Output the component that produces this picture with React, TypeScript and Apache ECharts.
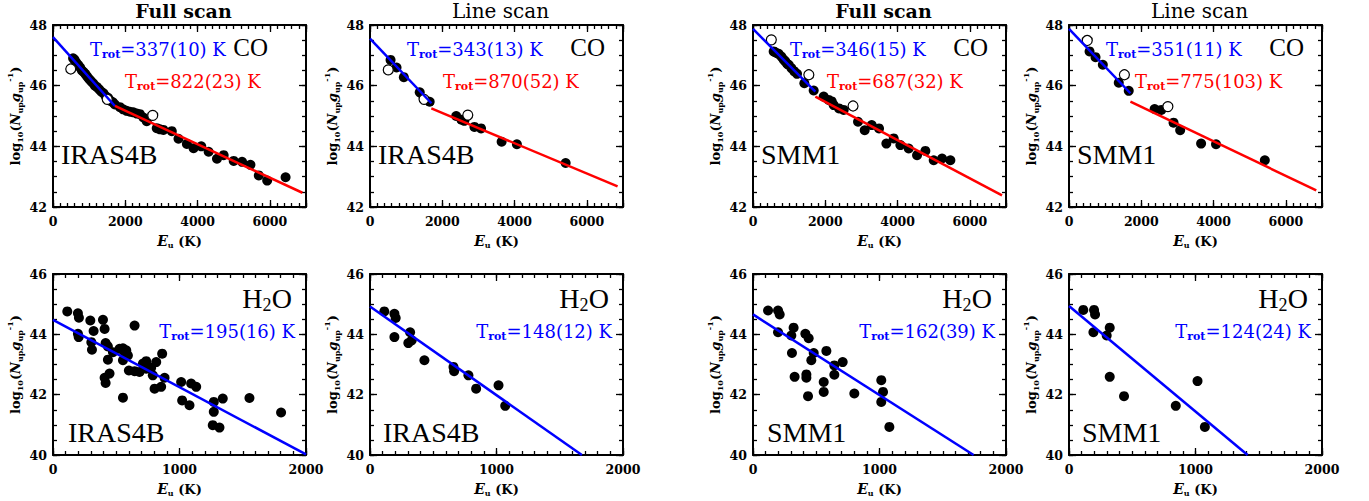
import React, { useEffect, useRef } from 'react';
import * as echarts from 'echarts';

// ---------------- Data ----------------
const scanTitles = ['Full scan', 'Line scan', 'Full scan', 'Line scan'];
const sourceNames = ['IRAS4B', 'IRAS4B', 'SMM1', 'SMM1'];
const coTrotWarm = ['337(10)', '343(13)', '346(15)', '351(11)'];
const coTrotHot = ['822(23)', '870(52)', '687(32)', '775(103)'];
const h2oTrot = ['195(16)', '148(12)', '162(39)', '124(24)'];

const coXRange = [0, 7000];
const coYRange = [42, 48];
const h2oXRange = [0, 2000];
const h2oYRange = [40, 46];
const coXStep = 2000;
const coXMinor = 200;
const h2oXStep = 1000;
const h2oXMinor = 100;
const yStep = 2;
const yMinor = 0.5;

// CO, IRAS4B, full scan
const coFullIRAS4B = [
  [556, 46.9], [600, 46.85], [650, 46.75], [700, 46.68], [752, 46.6], [800, 46.5], [846, 46.45],
  [900, 46.38], [945, 46.3], [1000, 46.22], [1050, 46.15], [1110, 46.08], [1160, 46.0], [1220, 45.95],
  [1276, 45.88], [1340, 45.8], [1397, 45.75], [1460, 45.65], [1524, 45.6], [1590, 45.5], [1657, 45.45],
  [1713, 45.38], [1852, 45.29], [1940, 45.22], [2037, 45.17], [2130, 45.14], [2222, 45.12], [2320, 45.08],
  [2407, 45.06], [2500, 44.95], [2593, 44.83], [2870, 44.6], [2960, 44.56], [3056, 44.54], [3287, 44.5],
  [3472, 44.25], [3704, 44.08], [3889, 43.94], [4102, 44.0], [4306, 43.82], [4537, 43.59], [4722, 43.71],
  [5000, 43.52], [5231, 43.49], [5463, 43.39], [5694, 43.04], [5926, 42.87], [6435, 42.98],
];
const coFullIRAS4BBlend = [[491, 46.55], [1500, 45.55], [2759, 45.02]];
const coFullIRAS4BWarmFit = [[0, 47.6], [1713, 45.33]];
const coFullIRAS4BHotFit = [[1713, 45.33], [6900, 42.47]];

// CO, IRAS4B, line scan
const coLineIRAS4B = [
  [569, 46.85], [734, 46.6], [936, 46.28], [1376, 45.78], [1651, 45.47], [2385, 45.0], [2530, 44.88],
  [2610, 44.84], [2890, 44.64], [3073, 44.59], [3642, 44.15], [4064, 44.07], [5413, 43.45],
];
const coLineIRAS4BBlend = [[505, 46.52], [1495, 45.55], [2706, 45.03]];
const coLineIRAS4BWarmFit = [[0, 47.55], [1700, 45.42]];
const coLineIRAS4BHotFit = [[1697, 45.25], [6850, 42.68]];

// CO, SMM1, full scan
const coFullSMM1 = [
  [572, 47.13], [600, 47.11], [664, 47.07], [710, 47.05], [784, 46.96], [846, 46.86], [895, 46.8],
  [945, 46.72], [987, 46.69], [1061, 46.58], [1144, 46.47], [1218, 46.39], [1421, 46.08], [1679, 45.84],
  [1956, 45.64], [2094, 45.53], [2180, 45.48], [2232, 45.36], [2380, 45.25], [2509, 45.2], [2906, 44.81],
  [3090, 44.53], [3284, 44.7], [3487, 44.59], [3690, 44.09], [3893, 44.26], [4077, 44.04], [4308, 43.93],
  [4539, 43.71], [4769, 43.85], [5000, 43.54], [5231, 43.6], [5461, 43.54],
];
const coFullSMM1Blend = [[507, 47.51], [1545, 46.36], [2768, 45.33]];
const coFullSMM1WarmFit = [[0, 47.87], [1725, 45.8]];
const coFullSMM1HotFit = [[1725, 45.64], [6890, 42.38]];

// CO, SMM1, line scan
const coLineSMM1 = [
  [569, 47.13], [734, 46.94], [936, 46.69], [1377, 46.1], [1653, 45.83], [2369, 45.23], [2553, 45.2],
  [2893, 44.78], [3076, 44.53], [3655, 44.09], [4068, 44.07], [5418, 43.54],
];
const coLineSMM1Blend = [[505, 47.49], [1533, 46.36], [2736, 45.31]];
const coLineSMM1WarmFit = [[0, 47.87], [1699, 45.75]];
const coLineSMM1HotFit = [[1699, 45.47], [6841, 42.55]];

// H2O, IRAS4B, full scan
const h2oFullIRAS4B = [
  [113, 44.76], [197, 44.7], [205, 44.55], [197, 44.02], [203, 43.91], [295, 44.46], [321, 44.11],
  [303, 43.74], [308, 43.49], [395, 44.48], [408, 44.18], [416, 43.71], [434, 43.6], [408, 42.56],
  [416, 42.39], [447, 42.7], [434, 43.16], [474, 43.41], [526, 43.52], [553, 41.9], [553, 43.54],
  [566, 43.41], [553, 43.14], [579, 43.47], [592, 43.3], [600, 42.8], [645, 44.29], [645, 42.78],
  [684, 42.75], [711, 43.03], [737, 43.11], [737, 42.86], [776, 42.89], [789, 42.64], [803, 42.2],
  [816, 43.08], [855, 42.26], [863, 43.36], [882, 42.56], [1013, 42.42], [1021, 41.81], [1079, 41.65],
  [1092, 42.37], [1132, 42.26], [1271, 41.76], [1271, 41.43], [1342, 41.87], [1263, 40.99],
  [1316, 40.91], [1553, 41.89], [1803, 41.41],
];
const h2oFullIRAS4BFit = [[0, 44.48], [2000, 40.02]];

// H2O, IRAS4B, line scan
const h2oLineIRAS4B = [
  [113, 44.76], [193, 44.68], [203, 44.54], [193, 43.91], [317, 44.07], [303, 43.71], [330, 43.8],
  [430, 43.14], [660, 42.92], [665, 42.78], [778, 42.64], [839, 42.2], [1016, 42.31], [1069, 41.63],
];
const h2oLineIRAS4BFit = [[0, 44.92], [1675, 40.0]];

// H2O, SMM1, full scan
const h2oFullSMM1 = [
  [119, 44.79], [198, 44.79], [211, 44.66], [198, 44.07], [321, 44.22], [303, 43.96], [308, 43.38],
  [329, 42.59], [414, 44.02], [440, 43.87], [422, 42.67], [422, 42.56], [435, 41.95], [480, 43.38],
  [461, 43.14], [580, 43.45], [559, 42.42], [559, 42.09], [643, 42.97], [643, 42.66], [709, 43.08],
  [801, 42.04], [1014, 42.48], [1028, 42.09], [1014, 41.76], [1078, 40.93],
];
const h2oFullSMM1Fit = [[0, 44.66], [1744, 40.0]];

// H2O, SMM1, line scan
const h2oLineSMM1 = [
  [113, 44.81], [198, 44.81], [206, 44.66], [193, 44.07], [298, 43.96], [322, 44.22], [322, 42.59],
  [435, 41.95], [844, 41.63], [1016, 42.45], [1074, 40.93],
];
const h2oLineSMM1Fit = [[0, 44.94], [1412, 40.0]];

// ---------------- Layout / styles ----------------
const SERIF = "'DejaVu Serif', serif";
const TIMES = "'Liberation Serif', 'Times New Roman', serif";
const BLUE = '#0000ff';
const RED = '#ff0000';
const COL_LEFT = [53, 370, 753, 1069];
const PANEL_W = 253;
const ROW_TOP = [25, 274];
const ROW_H = [182, 181];

type Panel = {
  row: number;
  col: number;
  filled: number[][];
  open: number[][];
  fits: [number[][], string][];
};

const panels: Panel[] = [
  { row: 0, col: 0, filled: coFullIRAS4B, open: coFullIRAS4BBlend, fits: [[coFullIRAS4BWarmFit, BLUE], [coFullIRAS4BHotFit, RED]] },
  { row: 0, col: 1, filled: coLineIRAS4B, open: coLineIRAS4BBlend, fits: [[coLineIRAS4BWarmFit, BLUE], [coLineIRAS4BHotFit, RED]] },
  { row: 0, col: 2, filled: coFullSMM1, open: coFullSMM1Blend, fits: [[coFullSMM1WarmFit, BLUE], [coFullSMM1HotFit, RED]] },
  { row: 0, col: 3, filled: coLineSMM1, open: coLineSMM1Blend, fits: [[coLineSMM1WarmFit, BLUE], [coLineSMM1HotFit, RED]] },
  { row: 1, col: 0, filled: h2oFullIRAS4B, open: [], fits: [[h2oFullIRAS4BFit, BLUE]] },
  { row: 1, col: 1, filled: h2oLineIRAS4B, open: [], fits: [[h2oLineIRAS4BFit, BLUE]] },
  { row: 1, col: 2, filled: h2oFullSMM1, open: [], fits: [[h2oFullSMM1Fit, BLUE]] },
  { row: 1, col: 3, filled: h2oLineSMM1, open: [], fits: [[h2oLineSMM1Fit, BLUE]] },
];

// annotation offsets (px, relative to each panel frame)
const coWarmDx = [37, 37, 37, 37];
const coHotDx = [72, 73, 74, 66];
const coLabelRight = [38, 18, 18, 18];
const h2oNameDx = [15, 13, 14, 13];

function makeAxis(gridIndex: number, position: string, range: number[], step: number, major: boolean, labels: boolean) {
  const horizontal = position === 'bottom' || position === 'top';
  return {
    type: 'value',
    gridIndex,
    position,
    min: range[0],
    max: range[1],
    interval: step,
    axisLine: { show: major, onZero: false, lineStyle: { color: '#000', width: 2 } },
    axisTick: { show: true, inside: true, length: major ? 7 : 4, lineStyle: { color: '#000', width: 1.3 } },
    axisLabel: {
      show: labels,
      color: '#000',
      fontFamily: SERIF,
      fontWeight: 'bold',
      fontSize: 12.5,
      margin: horizontal ? 8 : 6,
      formatter: (v: number) => (Math.abs(v / step - Math.round(v / step)) < 1e-9 ? String(v) : ''),
    },
    splitLine: { show: false },
    minorTick: { show: false },
  };
}

const trotRich = (color: string) => ({
  t: { fontFamily: SERIF, fontSize: 18, fill: color, lineHeight: 22 },
  s: { fontFamily: SERIF, fontSize: 11, fontWeight: 'bold', fill: color, lineHeight: 8, verticalAlign: 'bottom' },
});

const yNameRich = {
  a: { fontFamily: SERIF, fontWeight: 'bold', fontSize: 13, fill: '#000', lineHeight: 18 },
  n: { fontFamily: SERIF, fontWeight: 'bold', fontStyle: 'italic', fontSize: 13, fill: '#000', lineHeight: 18 },
  b: { fontFamily: SERIF, fontWeight: 'bold', fontSize: 8, fill: '#000', lineHeight: 6, verticalAlign: 'bottom' },
  c: { fontFamily: SERIF, fontWeight: 'bold', fontSize: 8, fill: '#000', lineHeight: 6, verticalAlign: 'top' },
};

const xNameRich = {
  e: { fontFamily: SERIF, fontWeight: 'bold', fontStyle: 'italic', fontSize: 14, fill: '#000', lineHeight: 16 },
  u: { fontFamily: SERIF, fontWeight: 'bold', fontSize: 8, fill: '#000', lineHeight: 4, verticalAlign: 'bottom' },
  k: { fontFamily: SERIF, fontWeight: 'bold', fontSize: 13, fill: '#000', lineHeight: 16 },
};

function text(x: number, y: number, style: any, extra: any = {}) {
  return { type: 'text', x, y, silent: true, z: 50, ...extra, style };
}

function bigText(x: number, y: number, s: string, size: number, align: string) {
  return text(x, y, { text: s, fontFamily: TIMES, fontSize: size, fill: '#000', align, verticalAlign: 'middle' });
}

function buildOption() {
  const grid: any[] = [];
  const xAxis: any[] = [];
  const yAxis: any[] = [];
  const series: any[] = [];
  const elements: any[] = [];

  panels.forEach((pn, p) => {
    const left = COL_LEFT[pn.col];
    const top = ROW_TOP[pn.row];
    const h = ROW_H[pn.row];
    const right = left + PANEL_W;
    const cx = left + PANEL_W / 2;
    grid.push({ left, top, width: PANEL_W, height: h, containLabel: false });

    const xr = pn.row === 0 ? coXRange : h2oXRange;
    const yr = pn.row === 0 ? coYRange : h2oYRange;
    const xs = pn.row === 0 ? coXStep : h2oXStep;
    const xm = pn.row === 0 ? coXMinor : h2oXMinor;

    xAxis.push(makeAxis(p, 'bottom', xr, xs, true, true));
    xAxis.push(makeAxis(p, 'bottom', xr, xm, false, false));
    xAxis.push(makeAxis(p, 'top', xr, xs, true, false));
    xAxis.push(makeAxis(p, 'top', xr, xm, false, false));
    yAxis.push(makeAxis(p, 'left', yr, yStep, true, true));
    yAxis.push(makeAxis(p, 'left', yr, yMinor, false, false));
    yAxis.push(makeAxis(p, 'right', yr, yStep, true, false));
    yAxis.push(makeAxis(p, 'right', yr, yMinor, false, false));

    const xi = p * 4;
    const yi = p * 4;

    series.push({
      type: 'scatter', xAxisIndex: xi, yAxisIndex: yi, data: pn.filled, symbol: 'circle', symbolSize: 10,
      itemStyle: { color: '#000', opacity: 1 }, z: 3, silent: true,
    });
    if (pn.open.length) {
      series.push({
        type: 'scatter', xAxisIndex: xi, yAxisIndex: yi, data: pn.open, symbol: 'circle', symbolSize: 10,
        itemStyle: { color: '#fff', borderColor: '#000', borderWidth: 1.2, opacity: 1 }, z: 3, silent: true,
      });
    }
    pn.fits.forEach(([d, c]) => {
      series.push({
        type: 'line', xAxisIndex: xi, yAxisIndex: yi, data: d, symbol: 'none', showSymbol: false,
        lineStyle: { color: c, width: 2.5 }, z: 4, silent: true,
      });
    });

    // axis names
    elements.push(text(left - 38, top + h / 2, {
      text: '{a|log}{b|10}{a|(}{n|N}{b|up}{n|g}{b|up}{c|-1}{a|)}', rich: yNameRich,
      align: 'center', verticalAlign: 'middle',
    }, { rotation: Math.PI / 2 }));
    elements.push(text(cx, top + h + 34, {
      text: '{e|E}{u|u}{k| (K)}', rich: xNameRich, align: 'center', verticalAlign: 'middle',
    }));

    const c = pn.col;
    if (pn.row === 0) {
      const title = scanTitles[c];
      const bold = title.startsWith('Full');
      elements.push(text(cx + 4, 11, {
        text: title, fontFamily: SERIF, fontSize: bold ? 19 : 20, fontWeight: bold ? 'bold' : 'normal',
        fill: '#000', align: 'center', verticalAlign: 'middle',
      }));
      elements.push(text(left + coWarmDx[c], top + 24, {
        text: `{t|T}{s|rot}{t|=${coTrotWarm[c]} K}`, rich: trotRich(BLUE), align: 'left', verticalAlign: 'middle',
      }));
      elements.push(text(left + coHotDx[c], top + 56, {
        text: `{t|T}{s|rot}{t|=${coTrotHot[c]} K}`, rich: trotRich(RED), align: 'left', verticalAlign: 'middle',
      }));
      elements.push(bigText(right - coLabelRight[c], top + 22, 'CO', 25, 'right'));
      elements.push(bigText(left + 8, top + 129, sourceNames[c], 28, 'left'));
    } else {
      // H2O written as H, subscript 2, O
      const oRight = right - 14;
      elements.push(bigText(oRight, top + 24, 'O', 28, 'right'));
      elements.push(bigText(oRight - 20.5, top + 31, '2', 18, 'right'));
      elements.push(bigText(oRight - 29.5, top + 24, 'H', 28, 'right'));
      elements.push(text(right - 11, top + 57, {
        text: `{t|T}{s|rot}{t|=${h2oTrot[c]} K}`, rich: trotRich(BLUE), align: 'right', verticalAlign: 'middle',
      }));
      elements.push(bigText(left + h2oNameDx[c], top + 158, sourceNames[c], 28, 'left'));
    }
  });

  return {
    animation: false,
    backgroundColor: '#ffffff',
    grid,
    xAxis,
    yAxis,
    series,
    graphic: { elements },
  };
}

export default function App() {
  const ref = useRef<HTMLDivElement>(null);
  useEffect(() => {
    if (!ref.current) return;
    const chart = echarts.init(ref.current, undefined, { renderer: 'svg' });
    chart.setOption(buildOption() as any);
    return () => chart.dispose();
  }, []);
  return (
    <div
      ref={ref}
      style={{ position: 'absolute', left: 0, top: 0, width: 1369, height: 501, background: '#fff' }}
    />
  );
}
